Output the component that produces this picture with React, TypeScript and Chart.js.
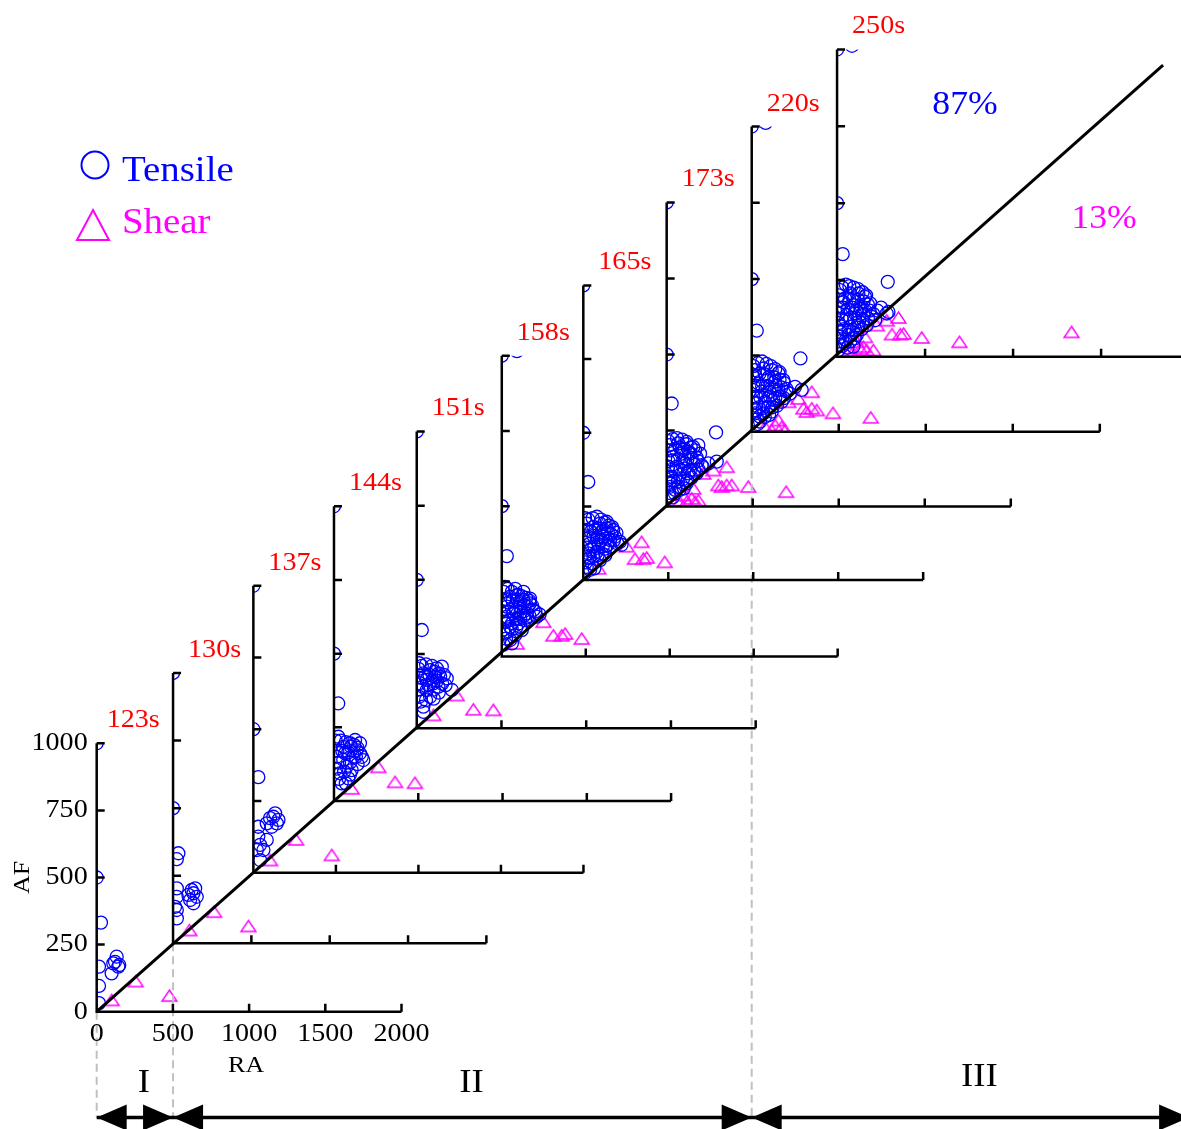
import React, { useEffect, useRef } from 'react';
import { Chart, registerables } from 'chart.js';

Chart.register(...registerables);

type Pt = [number, number];

// ---- panel layout: each RA–AF panel sits on the classification diagonal ----
const panelTimes = ['123s', '130s', '137s', '144s', '151s', '158s', '165s', '173s', '220s', '250s'];
// origin of each panel and its size, in RA / AF units of the first panel
const panelOriginRA = [0, 501, 1028, 1557, 2100, 2658, 3193, 3740, 4298, 4858];
const panelOriginAF = [0, 255, 518, 785, 1056, 1323, 1608, 1882, 2161, 2440];
const panelScaleRA = [1, 1.028, 1.083, 1.106, 1.112, 1.102, 1.115, 1.129, 1.142, 1.155];
const panelScaleAF = [1, 1.007, 1.069, 1.098, 1.106, 1.121, 1.098, 1.133, 1.137, 1.145];

const raTicks = [0, 500, 1000, 1500, 2000];
const afTicks = [0, 250, 500, 750, 1000];

// whole-figure frame (RA / AF units of the first panel)
const frameRA = [-634.5, 7114.8];
const frameAF = [-437, 3769.4];

// RA/AF = const classification line through all panel origins
const boundaryLineRA = [0, 6997];
const boundaryLineAF = [0, 3527];

// loading stages: start panels of I, II, III
const stageNames = ['I', 'II', 'III'];
const stageStartPanel = [0, 1, 8];
const stageArrowAF = -394;
const stageLabelLift = [34, 34, 40];

const legendNames = ['Tensile', 'Shear'];
const shareLabels = ['87%', '13%'];
// positions of share labels, in coordinates of the last panel
const shareRA = [727, 1517];
const shareAF = [818, 448];

// ---- AE events per snapshot: [RA, AF] ----
const tensile123: Pt[] = [[0, 1000], [0, 500], [28, 332], [15, 168], [15, 96], [15, 32], [120, 186], [142, 168], [109, 180], [131, 205], [98, 143], [148, 174]];
const shear123: Pt[] = [[98, 44], [256, 114], [477, 60]];

const tensile130: Pt[] = [[0, 1000], [0, 500], [34, 333], [24, 311], [24, 203], [24, 172], [24, 123], [24, 92], [13, 135], [130, 185], [151, 172], [109, 160], [119, 197], [141, 203], [98, 179], [130, 148]];
const shear130: Pt[] = [[104, 49], [262, 117], [481, 64]];

const tensile137: Pt[] = [[0, 1000], [0, 500], [30, 333], [30, 160], [30, 126], [41, 97], [21, 79], [41, 44], [81, 114], [61, 79], [81, 172], [121, 195], [142, 172], [111, 160], [132, 207], [152, 184], [101, 190]];
const shear137: Pt[] = [[101, 44], [259, 116], [475, 62]];

const tensile144: Pt[] = [[0, 1000], [0, 500], [25, 331], [26, 218], [55, 184], [95, 196], [134, 173], [115, 150], [154, 162], [75, 116], [36, 94], [105, 105], [174, 139], [65, 162], [125, 207], [46, 60], [85, 77], [154, 196], [16, 150],
  [10, 205], [40, 205], [70, 200], [100, 185], [120, 190], [140, 180], [20, 170], [50, 170], [85, 165], [130, 150], [165, 150], [30, 130], [55, 140], [95, 130], [140, 125], [15, 110], [60, 100], [95, 90], [30, 75], [70, 60]];
const shear144: Pt[] = [[105, 43], [263, 116], [362, 65], [480, 62]];

const tensile151: Pt[] = [[0, 1000], [0, 500], [30, 331], [15, 219], [39, 185], [79, 196], [118, 202], [138, 174], [98, 151], [59, 129], [15, 106], [39, 73], [79, 106], [128, 140], [177, 168], [207, 129], [148, 208], [15, 152], [108, 174], [59, 163],
  [10, 200], [30, 210], [55, 215], [90, 210], [105, 190], [130, 185], [160, 180], [25, 170], [50, 175], [75, 180], [90, 160], [120, 160], [150, 150], [170, 145], [10, 130], [35, 140], [70, 145], [100, 130], [130, 120], [25, 90], [55, 95], [100, 100], [40, 55]];
const shear151: Pt[] = [[98, 45], [236, 112], [334, 64], [452, 62]];

const tensile158: Pt[] = [[0, 1000], [90, 1015], [0, 500], [30, 334], [20, 232], [49, 199], [89, 204], [129, 188], [168, 177], [109, 166], [69, 144], [30, 133], [149, 144], [188, 155], [49, 99], [99, 110], [139, 121], [20, 77], [79, 71], [119, 88], [208, 133], [168, 193], [129, 215], [30, 166], [60, 44],
  [10, 215], [35, 225], [60, 215], [80, 225], [100, 205], [120, 200], [145, 195], [165, 185], [20, 190], [40, 180], [65, 185], [90, 190], [110, 180], [135, 170], [155, 165], [180, 170], [10, 150], [40, 150], [60, 160], [85, 155], [110, 145], [130, 150], [165, 135], [200, 150], [225, 140], [20, 115], [40, 120], [60, 110], [85, 125], [110, 125], [130, 135], [150, 130], [10, 90], [35, 85], [60, 90], [85, 95], [110, 100], [25, 60], [50, 55], [10, 40]];
const shear158: Pt[] = [[89, 44], [248, 116], [307, 71], [357, 71], [377, 77], [476, 60]];

const tensile165: Pt[] = [[0, 1000], [0, 500], [29, 333], [20, 192], [59, 181], [98, 192], [138, 175], [176, 170], [118, 147], [79, 136], [39, 124], [157, 136], [216, 130], [29, 91], [79, 96], [128, 107], [49, 57], [98, 68], [20, 45], [138, 198], [186, 147], [108, 164],
  [10, 210], [30, 205], [55, 210], [80, 215], [105, 205], [125, 195], [150, 185], [170, 180], [195, 160], [20, 170], [45, 165], [70, 170], [95, 175], [120, 170], [145, 160], [165, 155], [10, 140], [35, 145], [60, 150], [85, 145], [105, 135], [130, 140], [180, 135], [200, 125], [225, 120], [20, 110], [45, 105], [65, 115], [90, 120], [115, 115], [140, 118], [160, 112], [10, 80], [35, 75], [60, 80], [85, 85], [110, 90], [130, 85], [15, 60], [40, 35], [65, 40], [10, 25]];
const shear165: Pt[] = [[88, 40], [255, 115], [343, 130], [304, 73], [353, 73], [373, 77], [479, 62]];

const tensile173: Pt[] = [[0, 1000], [0, 500], [29, 339], [287, 244], [19, 202], [67, 208], [116, 213], [155, 196], [194, 174], [136, 174], [87, 174], [38, 164], [9, 131], [58, 131], [106, 142], [155, 142], [203, 136], [29, 98], [77, 104], [126, 109], [174, 109], [19, 65], [67, 65], [116, 76], [48, 43], [242, 142], [291, 148], [97, 186], [184, 202],
  [10, 215], [35, 222], [60, 225], [90, 220], [115, 205], [140, 195], [165, 185], [20, 185], [50, 190], [75, 195], [105, 190], [130, 180], [175, 160], [10, 150], [35, 152], [65, 155], [95, 150], [120, 155], [145, 160], [180, 150], [210, 130], [25, 120], [50, 118], [80, 122], [105, 125], [135, 120], [160, 118], [185, 122], [10, 95], [40, 85], [65, 82], [95, 90], [120, 85], [145, 95], [20, 75], [50, 55], [75, 55], [100, 60], [15, 45], [35, 30]];
const shear173: Pt[] = [[58, 21], [77, 16], [97, 38], [116, 16], [145, 27], [165, 16], [184, 21], [155, 60], [213, 109], [271, 120], [349, 131], [300, 71], [320, 66], [349, 71], [378, 71], [474, 66], [694, 49]];

const tensile220: Pt[] = [[0, 1000], [80, 1012], [0, 500], [29, 331], [280, 240], [19, 202], [67, 207], [115, 202], [153, 191], [182, 169], [134, 164], [86, 169], [38, 158], [9, 136], [57, 131], [105, 131], [153, 136], [201, 131], [29, 93], [76, 98], [124, 104], [172, 98], [19, 60], [67, 60], [115, 66], [48, 33], [249, 147], [287, 137], [9, 180], [163, 115],
  [10, 215], [35, 225], [60, 230], [85, 222], [110, 215], [135, 205], [160, 195], [20, 185], [45, 190], [75, 188], [100, 180], [130, 178], [160, 170], [185, 160], [10, 150], [35, 150], [60, 148], [90, 150], [115, 145], [140, 150], [170, 145], [200, 140], [220, 125], [25, 115], [50, 112], [80, 118], [105, 115], [135, 110], [160, 115], [185, 110], [10, 95], [40, 80], [65, 78], [95, 82], [120, 80], [145, 85], [20, 70], [45, 50], [75, 48], [100, 55], [15, 40], [35, 25]];
const shear220: Pt[] = [[76, 16], [134, 22], [172, 16], [115, 5], [192, 5], [153, 38], [210, 98], [268, 109], [297, 77], [316, 66], [345, 77], [374, 71], [345, 131], [467, 62], [684, 47]];

const tensile250: Pt[] = [[0, 1000], [85, 1012], [0, 500], [32, 334], [288, 244], [17, 217], [74, 206], [121, 206], [159, 195], [188, 174], [140, 163], [93, 168], [36, 179], [7, 141], [55, 136], [102, 141], [150, 136], [197, 130], [27, 98], [74, 98], [121, 103], [169, 103], [17, 65], [64, 71], [112, 71], [45, 44], [282, 141], [292, 146], [216, 119], [93, 33], [7, 22],
  [10, 200], [30, 225], [50, 235], [70, 230], [95, 225], [120, 220], [145, 210], [165, 200], [20, 185], [45, 190], [70, 185], [95, 190], [120, 185], [150, 180], [175, 170], [10, 160], [35, 160], [60, 155], [85, 160], [110, 150], [135, 155], [160, 150], [185, 150], [205, 140], [25, 125], [50, 120], [75, 125], [100, 120], [125, 115], [150, 120], [175, 125], [10, 110], [40, 90], [65, 85], [90, 88], [115, 95], [140, 90], [20, 80], [50, 55], [75, 50], [100, 60], [15, 50], [30, 35], [60, 30], [230, 150], [250, 160]];
const shear250: Pt[] = [[74, 22], [84, 10], [112, 49], [131, 27], [149, 33], [159, 65], [169, 22], [206, 22], [226, 103], [282, 119], [312, 74], [359, 74], [378, 76], [349, 128], [481, 63], [695, 49], [1332, 81]];

const tensileSets = [tensile123, tensile130, tensile137, tensile144, tensile151, tensile158, tensile165, tensile173, tensile220, tensile250];
const shearSets = [shear123, shear130, shear137, shear144, shear151, shear158, shear165, shear173, shear220, shear250];

const BLUE = '#0000ff';
const MAGENTA = '#ff00ff';
const RED = '#ff0000';
const SERIF = '"Liberation Serif", "Times New Roman", serif';
const TEXT_STRETCH = 1.08;

const toFrame = (k: number, ra: number, af: number) => ({
  x: panelOriginRA[k] + ra * panelScaleRA[k],
  y: panelOriginAF[k] + af * panelScaleAF[k],
});

function panelPx(chart: any, k: number, ra: number, af: number) {
  const p = toFrame(k, ra, af);
  return { x: chart.scales.x.getPixelForValue(p.x), y: chart.scales.y.getPixelForValue(p.y) };
}

// text with the slightly wide letterforms used throughout the figure
function drawText(ctx: CanvasRenderingContext2D, text: string, x: number, y: number, rotate = 0) {
  ctx.save();
  ctx.translate(x, y);
  if (rotate) ctx.rotate(rotate);
  ctx.scale(TEXT_STRETCH, 1);
  ctx.fillText(text, 0, 0);
  ctx.restore();
}

function makeTriangle(w: number, h: number, color: string, lw: number) {
  const c = document.createElement('canvas');
  c.width = w + 4;
  c.height = h + 4;
  const g = c.getContext('2d')!;
  g.strokeStyle = color;
  g.lineWidth = lw;
  g.beginPath();
  g.moveTo(c.width / 2, 2);
  g.lineTo(c.width - 2, h + 2);
  g.lineTo(2, h + 2);
  g.closePath();
  g.stroke();
  return c;
}

const cascadePlugin = {
  id: 'cascade',
  beforeDatasetDraw(chart: any, args: any) {
    const ds: any = chart.data.datasets[args.index];
    if (ds.panel === undefined) return;
    const k = ds.panel;
    const o = panelPx(chart, k, 0, 0);
    const tr = panelPx(chart, k, raTicks[raTicks.length - 1], afTicks[afTicks.length - 1]);
    const ctx = chart.ctx;
    ctx.save();
    ctx.beginPath();
    ctx.rect(o.x, tr.y, tr.x - o.x, o.y - tr.y);
    ctx.clip();
  },
  afterDatasetDraw(chart: any, args: any) {
    const ds: any = chart.data.datasets[args.index];
    if (ds.panel === undefined) return;
    chart.ctx.restore();
  },
  afterDatasetsDraw(chart: any) {
    const ctx = chart.ctx;
    const n = panelTimes.length;
    ctx.save();

    // panel axes with inward ticks
    for (let k = 0; k < n; k++) {
      const o = panelPx(chart, k, 0, 0);
      const top = panelPx(chart, k, 0, afTicks[afTicks.length - 1]);
      const right = panelPx(chart, k, raTicks[raTicks.length - 1], 0);
      ctx.strokeStyle = '#000';
      ctx.lineWidth = 2.5;
      ctx.lineCap = 'butt';
      ctx.lineJoin = 'miter';
      ctx.beginPath();
      ctx.moveTo(top.x, top.y);
      ctx.lineTo(o.x, o.y);
      ctx.lineTo(right.x, right.y);
      ctx.stroke();
      ctx.beginPath();
      afTicks.slice(1).forEach((v) => {
        const p = panelPx(chart, k, 0, v);
        ctx.moveTo(p.x, p.y);
        ctx.lineTo(p.x + 8, p.y);
      });
      raTicks.slice(1).forEach((v) => {
        const p = panelPx(chart, k, v, 0);
        ctx.moveTo(p.x, p.y);
        ctx.lineTo(p.x, p.y - 8);
      });
      ctx.stroke();

      ctx.fillStyle = RED;
      ctx.font = `26px ${SERIF}`;
      ctx.textAlign = 'left';
      ctx.textBaseline = 'alphabetic';
      drawText(ctx, panelTimes[k], top.x + (k === 0 ? 10 : 15), top.y - 16);
    }

    // tick labels and titles of the first panel
    ctx.fillStyle = '#000';
    ctx.font = `26px ${SERIF}`;
    ctx.textAlign = 'right';
    ctx.textBaseline = 'middle';
    afTicks.forEach((v) => {
      const p = panelPx(chart, 0, 0, v);
      drawText(ctx, String(v), p.x - 9, p.y);
    });
    ctx.textAlign = 'center';
    ctx.textBaseline = 'alphabetic';
    raTicks.forEach((v) => {
      const p = panelPx(chart, 0, v, 0);
      drawText(ctx, String(v), p.x, p.y + 29);
    });
    ctx.font = `24px ${SERIF}`;
    ctx.textBaseline = 'middle';
    const afMid = panelPx(chart, 0, 0, 500);
    drawText(ctx, 'AF', afMid.x - 74, afMid.y, -Math.PI / 2);
    const raMid = panelPx(chart, 0, 1000, 0);
    drawText(ctx, 'RA', raMid.x - 3, raMid.y + 54);

    // share labels
    ctx.font = `33px ${SERIF}`;
    ctx.textAlign = 'center';
    ctx.textBaseline = 'middle';
    [BLUE, MAGENTA].forEach((c, i) => {
      const p = panelPx(chart, n - 1, shareRA[i], shareAF[i]);
      ctx.fillStyle = c;
      drawText(ctx, shareLabels[i], p.x, p.y);
    });

    // stage arrows
    const ay = chart.scales.y.getPixelForValue(stageArrowAF);
    const xs = stageStartPanel.map((k) => panelPx(chart, k, 0, 0).x);
    xs.push(panelPx(chart, n - 1, raTicks[raTicks.length - 1], 0).x);
    ctx.strokeStyle = '#000';
    ctx.fillStyle = '#000';
    ctx.lineWidth = 3.5;
    ctx.beginPath();
    ctx.moveTo(xs[0], ay);
    ctx.lineTo(xs[xs.length - 1], ay);
    ctx.stroke();
    const head = (tip: number, dir: number) => {
      ctx.beginPath();
      ctx.moveTo(tip, ay);
      ctx.lineTo(tip - dir * 30, ay - 13);
      ctx.lineTo(tip - dir * 30, ay + 13);
      ctx.closePath();
      ctx.fill();
    };
    ctx.font = `34px ${SERIF}`;
    ctx.textAlign = 'center';
    ctx.textBaseline = 'middle';
    for (let s = 0; s < stageNames.length; s++) {
      head(xs[s], -1);
      head(xs[s + 1], 1);
      drawText(ctx, stageNames[s], (xs[s] + xs[s + 1]) / 2 + 9, ay - stageLabelLift[s]);
    }

    // legend
    const area = chart.chartArea;
    const lx = area.left + 95;
    const ly = area.top + 165;
    ctx.lineWidth = 2;
    ctx.strokeStyle = BLUE;
    ctx.beginPath();
    ctx.arc(lx, ly, 13.5, 0, Math.PI * 2);
    ctx.stroke();
    ctx.strokeStyle = MAGENTA;
    ctx.beginPath();
    ctx.moveTo(lx - 2, ly + 45);
    ctx.lineTo(lx + 14, ly + 75);
    ctx.lineTo(lx - 18, ly + 75);
    ctx.closePath();
    ctx.stroke();
    ctx.font = `36px ${SERIF}`;
    ctx.textAlign = 'left';
    ctx.textBaseline = 'alphabetic';
    ctx.fillStyle = BLUE;
    drawText(ctx, legendNames[0], lx + 27, ly + 16);
    ctx.fillStyle = MAGENTA;
    drawText(ctx, legendNames[1], lx + 27, ly + 68);

    ctx.restore();
  },
};

export default function App() {
  const ref = useRef<HTMLCanvasElement | null>(null);

  useEffect(() => {
    if (!ref.current) return;
    const triangle = makeTriangle(15, 11, MAGENTA, 1.4);
    const datasets: any[] = [];

    datasets.push({
      label: 'boundary',
      data: boundaryLineRA.map((x, i) => ({ x, y: boundaryLineAF[i] })),
      showLine: true,
      pointRadius: 0,
      borderColor: '#000',
      borderWidth: 3,
      order: 0,
    });

    stageStartPanel.forEach((k) => {
      datasets.push({
        label: 'stage',
        data: [
          { x: panelOriginRA[k], y: panelOriginAF[k] },
          { x: panelOriginRA[k], y: stageArrowAF },
        ],
        showLine: true,
        pointRadius: 0,
        borderColor: '#c0c0c0',
        borderWidth: 2,
        borderDash: [8, 5],
        order: 1,
      });
    });

    for (let k = 0; k < panelTimes.length; k++) {
      datasets.push({
        label: legendNames[0],
        panel: k,
        data: tensileSets[k].map(([ra, af]) => toFrame(k, ra, af)),
        showLine: false,
        pointStyle: 'circle',
        pointRadius: 6.5,
        pointBorderWidth: 1.3,
        pointBorderColor: BLUE,
        pointBackgroundColor: 'rgba(0,0,0,0)',
        order: 2,
      });
      datasets.push({
        label: legendNames[1],
        panel: k,
        data: shearSets[k].map(([ra, af]) => toFrame(k, ra, af)),
        showLine: false,
        pointStyle: triangle,
        pointRadius: 8,
        order: 2,
      });
    }

    const chart = new Chart(ref.current, {
      type: 'scatter',
      data: { datasets },
      options: {
        responsive: false,
        animation: false,
        devicePixelRatio: 1,
        events: [],
        layout: { padding: 0, autoPadding: false },
        plugins: { legend: { display: false }, tooltip: { enabled: false } },
        scales: {
          x: { type: 'linear', min: frameRA[0], max: frameRA[1], display: false },
          y: { type: 'linear', min: frameAF[0], max: frameAF[1], display: false },
        },
      },
      plugins: [cascadePlugin],
    } as any);

    return () => chart.destroy();
  }, []);

  return (
    <div style={{ position: 'absolute', left: 0, top: 0, width: 1181, height: 1129, background: '#fff' }}>
      <canvas ref={ref} width={1181} height={1129} style={{ display: 'block' }} />
    </div>
  );
}
